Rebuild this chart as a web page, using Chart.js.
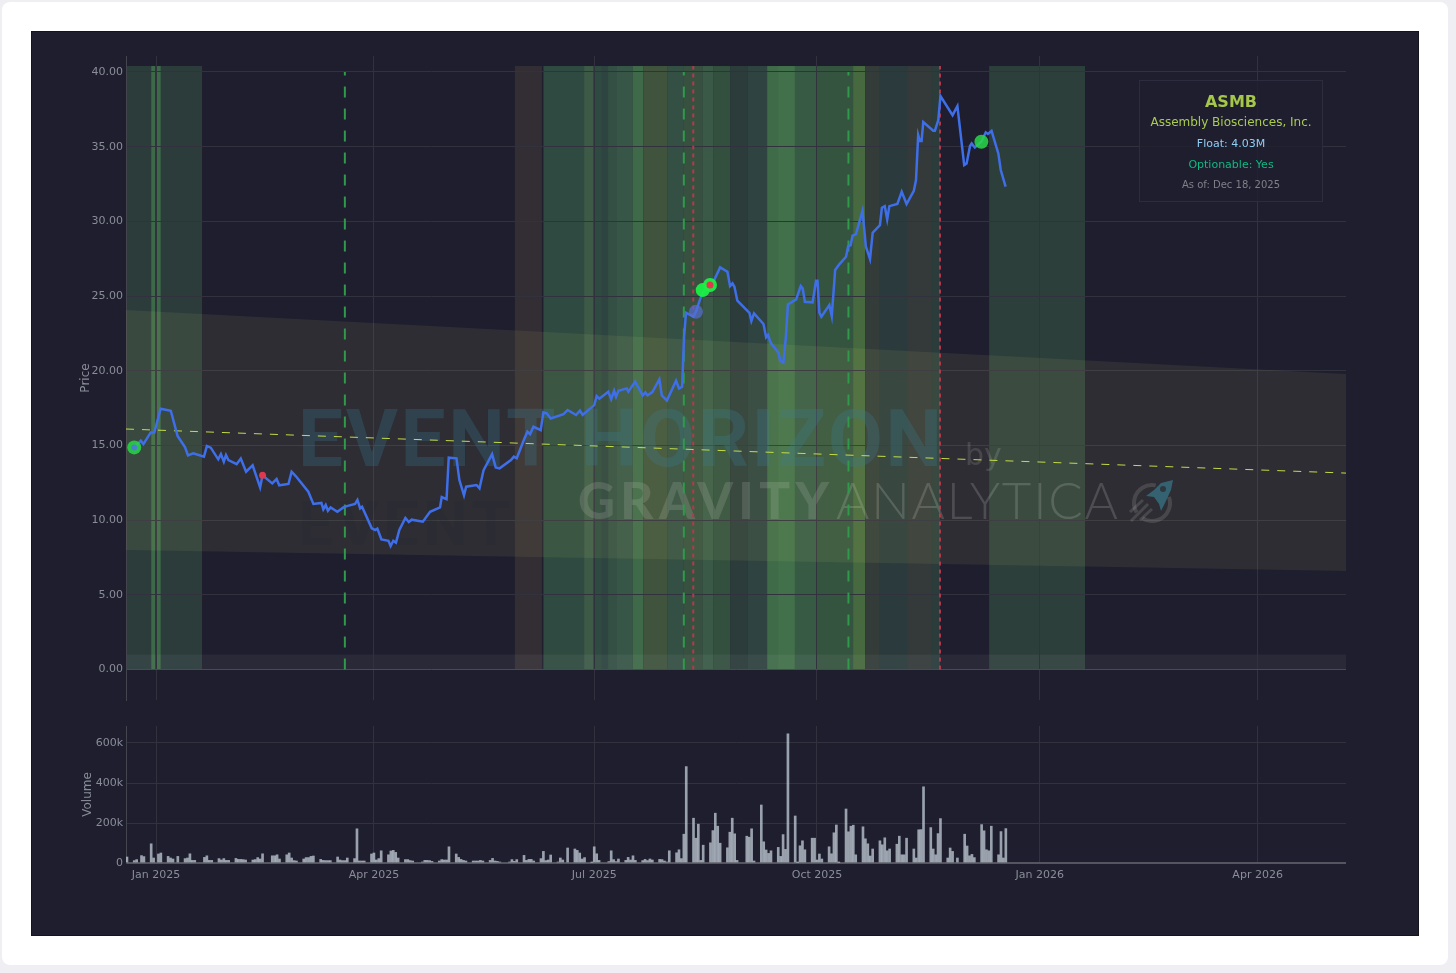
<!DOCTYPE html>
<html>
<head>
<meta charset="utf-8">
<title>ASMB</title>
<script src="https://cdn.jsdelivr.net/npm/chart.js@4/dist/chart.umd.min.js"></script>
<style>
    html, body { margin: 0; padding: 0; background: #eeeef3; width: 1456px; height: 973px; overflow: hidden; font-family: "DejaVu Sans", sans-serif; }
    #card { position: absolute; left: 2px; top: 2px; width: 1446px; height: 963px; background: #fff; border-radius: 8px; }
    #panel { position: absolute; left: 31px; top: 31px; width: 1388px; height: 905px; background: #1e1e2e; box-shadow: 0 0 0 1px #14141f inset; }
    canvas { position: absolute; left: 0; }
    #priceChart { top: 0; }
    #volumeChart { top: 685px; }
    #infoBox { position: absolute; left: 1108px; top: 49px; width: 182px; height: 120px; border: 1px solid #2c2c3e; background: rgba(30, 30, 46, 0.8); text-align: center; }
    #infoBox div { position: absolute; left: 0; right: 0; white-space: nowrap; }
</style>
</head>
<body>
<div id="card"></div>
<div id="panel">
    <canvas id="priceChart" width="1388" height="685"></canvas>
    <canvas id="volumeChart" width="1388" height="220"></canvas>
    <div id="infoBox">
        <div style="top:11px;font-size:16px;font-weight:bold;color:#a4c64a">ASMB</div>
        <div style="top:34px;font-size:12px;color:#a9cc50">Assembly Biosciences, Inc.</div>
        <div style="top:56px;font-size:11px;color:#90cdf4">Float: 4.03M</div>
        <div style="top:77px;font-size:11px;color:#10b981">Optionable: Yes</div>
        <div style="top:98px;font-size:10px;color:#808088">As of: Dec 18, 2025</div>
    </div>
</div>
<script>
// Eixo x em dias desde 1 jan 2025
const X_MIN = -12.4;
const X_MAX = 491.5;
const dateTickDays = [0, 90, 181, 273, 365, 455];
const dateTickLabels = ['Jan 2025', 'Apr 2025', 'Jul 2025', 'Oct 2025', 'Jan 2026', 'Apr 2026'];
const priceTicks = [0, 5, 10, 15, 20, 25, 30, 35, 40];
const volumeTicks = [0, 200000, 400000, 600000];
const volumeTickLabels = ['0', '200k', '400k', '600k'];

// Preço
const priceDays = [
    -9, -6.3, -5.2, -2.2, -0.7, 1.9, 6.1, 8.9, 12, 13.2, 15.4, 19.8, 21, 22.6, 25.7, 26.8, 28, 28.9, 29.9, 33.3,
    35, 37.2, 39.9, 43, 44, 48, 49.8, 50.9, 54.7, 56, 57.7, 62.9, 65, 68.3, 69.1, 70.1, 71, 72.1, 74.9, 77.4,
    78.8, 82.2, 83.2, 84.3, 85.1, 89.1, 90.5, 91.4, 93.1, 96, 96.9, 98, 99.1, 100.5, 103, 104.4, 105.6, 110.2, 113.2, 117.3,
    118, 120, 120.9, 124.1, 125.3, 127.2, 128.1, 132.4, 133.6, 135.3, 138.8, 140.3, 141.9, 146.6, 147.8, 149, 152, 153.4, 154.5, 155.9,
    158.9, 160, 161.4, 163, 168.3, 170, 173.5, 175.1, 176.2, 181, 182, 183.1, 186.8, 188, 189.2, 190, 191, 194.4, 195.1, 197.9,
    201, 202.1, 203, 205, 207.9, 208.9, 211, 214.8, 216, 217.3, 218.1, 218.9, 222, 223, 224.7, 226.1, 228.8, 230.2, 233, 236,
    237.1, 238.1, 238.9, 240.1, 245.1, 245.9, 247, 250.9, 252, 252.8, 253.9, 257.1, 257.8, 259.1, 260.1, 261, 264.4, 266.3, 267.1, 268,
    271.2, 272.6, 273.2, 274, 274.8, 278.1, 279.1, 280.5, 282.3, 285, 285.9, 286.9, 287.7, 289.1, 291.8, 293.2, 294.9, 296, 299, 299.8,
    301, 302, 302.9, 306.2, 308, 310, 313, 313.9, 314.8, 315.5, 316.2, 316.9, 321, 321.7, 323.1, 324, 329, 331, 333.8, 334.8,
    336.2, 336.9, 338.2, 340.9, 342.7, 343.6, 345.1, 347.9, 348.9, 350.9
];
const priceValues = [
    14.87, 15.32, 15.09, 15.87, 15.87, 17.46, 17.32, 15.63, 14.87, 14.33, 14.47, 14.25, 14.96, 14.85, 14.07, 14.42, 13.91, 14.36, 14.02, 13.75,
    14.13, 13.24, 13.67, 12.19, 13.0, 12.46, 12.75, 12.33, 12.42, 13.24, 12.95, 11.9, 11.08, 11.15, 10.72, 11.01, 10.63, 10.85, 10.56, 10.85,
    10.94, 11.08, 11.35, 10.79, 10.9, 9.45, 9.34, 9.43, 8.71, 8.62, 8.27, 8.62, 8.49, 9.34, 10.14, 9.87, 10.03, 9.9, 10.56, 10.85,
    11.55, 11.41, 14.18, 14.14, 12.68, 11.66, 12.24, 12.35, 12.13, 13.35, 14.42, 13.53, 13.47, 14.02, 14.25, 14.14, 15.4, 15.92, 15.76, 16.25,
    16.03, 17.21, 17.15, 16.81, 17.1, 17.37, 17.04, 17.33, 17.04, 17.7, 18.3, 18.13, 18.6, 18.1, 18.66, 18.26, 18.66, 18.82, 18.6, 19.27,
    18.35, 18.55, 18.35, 18.57, 19.42, 18.35, 18.0, 19.33, 18.82, 18.93, 22.28, 23.88, 23.62, 23.95, 24.78, 25.29, 25.74, 25.96, 26.92, 26.63,
    25.67, 25.85, 25.62, 24.69, 23.88, 23.33, 23.84, 23.13, 22.24, 22.39, 21.87, 21.2, 20.67, 20.54, 22.17, 24.44, 24.78, 25.67, 25.51, 24.62,
    24.58, 26.03, 26.03, 23.88, 23.62, 24.4, 23.66, 26.74, 27.14, 27.63, 28.35, 28.4, 29.04, 29.15, 30.71, 28.3, 27.47, 29.24, 29.75, 30.91,
    31.02, 30.13, 31.02, 31.16, 31.98, 31.16, 32.05, 32.77, 35.78, 35.38, 35.38, 36.65, 36.07, 36.07, 36.78, 38.39, 37.11, 37.71, 33.77, 33.88,
    35.04, 35.22, 34.95, 35.33, 35.96, 35.85, 36.05, 34.55, 33.44, 32.32
];

// Marcadores de eventos
const greenMarkerDays = [-9, 340.9];
const greenMarkerValues = [14.87, 35.33];
const brightMarkerDays = [225.8, 228.8];
const brightMarkerValues = [25.4, 25.74];
const blueMarkerDays = [223];
const blueMarkerValues = [23.95];
const blueDotDays = [-9];
const blueDotValues = [14.87];
const redDotDays = [44, 228.8];
const redDotValues = [13.0, 25.74];

// Volume (diário, valores em milhares)
const volumeDays = [
    -12, -9, -8, -6, -5, -2, -1, 1, 2, 5, 6, 7, 9, 12, 13, 14, 15, 16, 20, 21, 22, 23, 26, 27, 28, 29, 30,
    33, 34, 35, 36, 37, 40, 41, 42, 43, 44, 48, 49, 50, 51, 54, 55, 56, 57, 58, 61, 62, 63, 64, 65,
    68, 69, 70, 71, 72, 75, 76, 77, 78, 79, 82, 83, 84, 85, 86, 89, 90, 91, 92, 93, 96, 97, 98, 99, 100,
    103, 104, 105, 106, 110, 111, 112, 113, 114, 117, 118, 119, 120, 121, 124, 125, 126, 127, 128,
    131, 132, 133, 134, 135, 138, 139, 140, 141, 142, 146, 147, 148, 149, 152, 153, 154, 155, 156,
    159, 160, 161, 162, 163, 166, 167, 168, 170, 173, 174, 175, 176, 177, 180, 181, 182, 183,
    187, 188, 189, 190, 191, 194, 195, 196, 197, 198, 201, 202, 203, 204, 205, 208, 209, 210, 211, 212,
    215, 216, 217, 218, 219, 222, 223, 224, 225, 226, 229, 230, 231, 232, 233, 236, 237, 238, 239, 240,
    244, 245, 246, 247, 250, 251, 252, 253, 254, 257, 258, 259, 260, 261, 264, 265, 266, 267, 268,
    271, 272, 273, 274, 275, 278, 279, 280, 281, 282, 285, 286, 287, 288, 289, 292, 293, 294, 295, 296,
    299, 300, 301, 302, 303, 306, 307, 308, 309, 310, 313, 314, 315, 316, 317, 320, 321, 322, 323, 324,
    327, 328, 329, 331, 334, 335, 336, 337, 338, 341, 342, 343, 344, 345, 348, 349, 350, 351
];
const volumeThousands = [
    30, 12, 17, 37, 32, 96, 25, 45, 50, 33, 25, 20, 33, 22, 25, 46, 13, 13, 28, 36, 13, 13, 22, 15, 22, 13, 13,
    23, 18, 18, 17, 15, 15, 17, 27, 20, 46, 36, 36, 41, 20, 41, 50, 25, 12, 10, 20, 27, 27, 33, 35,
    18, 13, 12, 12, 12, 30, 15, 12, 12, 25, 22, 171, 10, 10, 10, 45, 50, 15, 22, 61, 41, 60, 63, 53, 25,
    17, 17, 12, 10, 5, 13, 13, 12, 8, 10, 17, 15, 15, 81, 45, 28, 18, 13, 10,
    10, 10, 10, 13, 10, 13, 23, 10, 8, 5, 5, 17, 8, 17, 38, 13, 18, 18, 10,
    22, 58, 12, 15, 40, 5, 25, 15, 75, 70, 63, 50, 20, 27, 3, 81, 46, 13,
    7, 61, 17, 7, 20, 13, 28, 15, 36, 13, 12, 18, 12, 20, 15, 18, 17, 10, 5, 61,
    51, 66, 22, 144, 482, 224, 124, 194, 13, 89, 101, 162, 249, 184, 99, 76, 154, 224, 146, 13,
    134, 129, 171, 10, 290, 106, 65, 48, 61, 78, 33, 142, 68, 646, 235, 3, 86, 111, 66,
    124, 124, 15, 45, 20, 81, 46, 151, 190, 3, 270, 156, 184, 189, 41, 181, 121, 96, 35, 70,
    111, 91, 126, 61, 70, 94, 134, 41, 41, 124, 70, 25, 166, 167, 381, 177, 70, 41, 147, 222,
    25, 75, 58, 25, 144, 85, 36, 43, 27, 192, 161, 66, 61, 184, 41, 157, 25, 172
];

// Linhas verticais e canal de tendência
const greenLineDays = [78, 218, 286];
const redLineDays = [221.9, 323.8];
const lineBottom = 0;
const lineTop = 40;
const redLineTop = 40.4;
const channelDays = [X_MIN, X_MAX];
const channelUpper = [24.06, 19.78];
const channelMiddle = [16.1, 13.15];
const channelLower = [8.0, 6.59];

// Faixas de fundo
const bandTop = 40.4;
const bandStarts = [
    -12.4, -2, -0.3, 0.3, 2, 148.2, 160, 176.8, 180.5, 184.2, 186.7, 190.4, 197, 201.2, 211.1, 217.7, 225.9, 230.1,
    237.1, 244.5, 252.4, 256.9, 263.9, 273, 287.9, 292.9, 299, 310.2, 320.1, 344.1
];
const bandEnds = [
    -2, -0.3, 0.3, 2, 19, 159.4, 176.8, 180.5, 184.2, 186.7, 190.4, 197, 201.2, 211.1, 217.7, 225.9, 230.1, 237.1,
    244.5, 252.4, 256.9, 263.9, 273, 287.9, 292.9, 299, 310.2, 320.1, 323.8, 383.7
];
const bandColors = [
    '#2b3c3b', '#3c6a48', '#2b3c3b', '#3c6a48', '#2b3c3b', '#332e33', '#2f4a40', '#3d5a47', '#2f4a40', '#2d4440', '#345044', '#385647', '#3f6a49', '#3f533d', '#345044', '#37503f', '#3a5a47', '#33503f',
    '#2b3c3a', '#2f4340', '#3f6b49', '#42704a', '#375a45', '#35543f', '#47693f', '#333c38', '#2b3a3c', '#34393a', '#2b3c3b', '#2d3f3b'
];
const floorBand = [0, 1];

// Faixas atrás da grade
const bandsPlugin = {
    id: 'bands',
    beforeDraw(chart) {
        const { ctx, chartArea, scales } = chart;
        const yTop = scales.y.getPixelForValue(bandTop);
        const yBottom = scales.y.getPixelForValue(0);
        ctx.save();
        bandStarts.forEach((start, i) => {
            const x0 = scales.x.getPixelForValue(start);
            const x1 = scales.x.getPixelForValue(bandEnds[i]);
            ctx.fillStyle = bandColors[i];
            ctx.fillRect(x0, yTop, x1 - x0, yBottom - yTop);
        });
        const f0 = scales.y.getPixelForValue(floorBand[1]);
        const f1 = scales.y.getPixelForValue(floorBand[0]);
        ctx.fillStyle = 'rgba(255, 255, 255, 0.05)';
        ctx.fillRect(chartArea.left, f0, chartArea.width, f1 - f0);
        ctx.restore();
    }
};

function fitText(ctx, text, x, baseline, width) {
    ctx.letterSpacing = '0px';
    const w = ctx.measureText(text).width;
    ctx.letterSpacing = ((width - w) / (text.length - 1)) + 'px';
    ctx.fillText(text, x, baseline);
    ctx.letterSpacing = '0px';
}

function drawRocket(ctx, cx, cy) {
    ctx.save();
    ctx.translate(cx, cy);
    const rad = Math.PI / 180;
    ctx.strokeStyle = 'rgba(210, 210, 210, 0.17)';
    ctx.lineWidth = 4;
    ctx.beginPath();
    ctx.arc(0, 0, 18, -20 * rad, 122 * rad);
    ctx.stroke();
    ctx.beginPath();
    ctx.arc(0, 0, 18, 148 * rad, 282 * rad);
    ctx.stroke();
    ctx.lineWidth = 3;
    [[-21, 18, -4, 1], [-12, 17, 0, 6], [-22, 9, -9, -3]].forEach(s => {
        ctx.beginPath();
        ctx.moveTo(s[0], s[1]);
        ctx.lineTo(s[2], s[3]);
        ctx.stroke();
    });
    ctx.fillStyle = 'rgba(45, 125, 155, 0.6)';
    ctx.beginPath();
    ctx.moveTo(21, -23);
    ctx.lineTo(9, -20);
    ctx.lineTo(2, -13);
    ctx.lineTo(-6, -7);
    ctx.lineTo(2, -6);
    ctx.lineTo(7, 1);
    ctx.lineTo(9, 8);
    ctx.lineTo(13, 0);
    ctx.lineTo(19, -13);
    ctx.closePath();
    ctx.fill();
    ctx.fillStyle = 'rgba(30, 30, 46, 0.8)';
    ctx.beginPath();
    ctx.arc(11, -14, 3, 0, Math.PI * 2);
    ctx.fill();
    ctx.restore();
}

// Marca d'água
const watermarkPlugin = {
    id: 'watermark',
    beforeDatasetsDraw(chart) {
        const ctx = chart.ctx;
        ctx.save();
        ctx.textAlign = 'left';
        ctx.textBaseline = 'alphabetic';

        ctx.font = '700 80px Roboto';
        ctx.fillStyle = 'rgba(45, 120, 150, 0.27)';
        fitText(ctx, 'EVENT HORIZON', 267, 435, 644);

        ctx.font = '700 62px Roboto';
        ctx.fillStyle = 'rgba(20, 25, 45, 0.1)';
        fitText(ctx, 'EVENT', 267, 514, 212);

        ctx.font = '30px "DejaVu Sans"';
        ctx.fillStyle = 'rgba(200, 200, 200, 0.17)';
        ctx.fillText('by', 934, 434);

        ctx.font = '900 51px Lato';
        ctx.fillStyle = 'rgba(210, 210, 210, 0.17)';
        fitText(ctx, 'GRAVITY', 547, 488, 251);

        ctx.font = '300 51px Lato';
        ctx.fillStyle = 'rgba(210, 210, 210, 0.2)';
        fitText(ctx, 'ANALYTICA', 805, 488, 282);

        drawRocket(ctx, 1121, 472);
        ctx.restore();
    }
};

const points = (days, values) => days.map((d, i) => ({ x: d, y: values[i] }));
const vertical = (d, top) => [{ x: d, y: lineBottom }, { x: d, y: top }];

function markerSet(days, values, radius, color) {
    return {
        data: points(days, values),
        showLine: false,
        pointRadius: radius,
        pointHoverRadius: radius,
        pointBackgroundColor: color,
        pointBorderWidth: 0
    };
}

const verticals = [
    ...greenLineDays.map(d => ({ data: vertical(d, lineTop), borderColor: '#2f9a4a', borderWidth: 2, borderDash: [11, 11], pointRadius: 0 })),
    ...redLineDays.map(d => ({ data: vertical(d, redLineTop), borderColor: '#b03a4e', borderWidth: 2, borderDash: [4, 4], pointRadius: 0 }))
];

const GRID = '#32323f';
const TICK = { color: '#8a8d99', font: { family: 'DejaVu Sans', size: 11 } };
const TITLE = { display: true, color: '#8a8d99', font: { family: 'DejaVu Sans', size: 12 }, padding: 0 };

new Chart(document.getElementById('priceChart'), {
    type: 'line',
    data: {
        datasets: [
            markerSet(redDotDays, redDotValues, 3.5, '#e0384c'),
            markerSet(blueDotDays, blueDotValues, 3, '#4a7fd0'),
            markerSet(brightMarkerDays, brightMarkerValues, 7, 'rgba(26, 240, 70, 0.95)'),
            markerSet(greenMarkerDays, greenMarkerValues, 7, 'rgba(40, 215, 70, 0.85)'),
            markerSet(blueMarkerDays, blueMarkerValues, 7, 'rgba(85, 110, 210, 0.7)'),
            { data: points(priceDays, priceValues), borderColor: '#3f6fe8', borderWidth: 2.5, pointRadius: 0, tension: 0 },
            { data: points(channelDays, channelMiddle), borderColor: '#c4dc48', borderWidth: 1, borderDash: [8, 8], pointRadius: 0 },
            ...verticals,
            { data: points(channelDays, channelUpper), borderWidth: 0, pointRadius: 0, fill: '+1', backgroundColor: 'rgba(250, 250, 140, 0.065)' },
            { data: points(channelDays, channelLower), borderWidth: 0, pointRadius: 0 }
        ]
    },
    options: {
        responsive: false,
        animation: false,
        layout: { padding: { left: 48, right: 73, top: 25, bottom: 16 } },
        plugins: { legend: { display: false }, tooltip: { enabled: false } },
        scales: {
            x: {
                type: 'linear',
                min: X_MIN,
                max: X_MAX,
                afterBuildTicks: scale => { scale.ticks = dateTickDays.map(v => ({ value: v })); },
                ticks: { display: false },
                grid: { color: GRID, drawTicks: false },
                border: { display: false }
            },
            y: {
                min: -2.04,
                max: 41.07,
                afterBuildTicks: scale => { scale.ticks = priceTicks.map(v => ({ value: v })); },
                afterFit: scale => { scale.width = 47; },
                ticks: { ...TICK, padding: 3, callback: v => v.toFixed(2) },
                grid: { color: c => c.tick.value === 0 ? '#4a4a56' : GRID, drawTicks: false },
                border: { color: '#44444f' },
                title: { ...TITLE, text: 'Price' }
            }
        }
    },
    plugins: [bandsPlugin, watermarkPlugin]
});

new Chart(document.getElementById('volumeChart'), {
    type: 'bar',
    data: {
        datasets: [{
            data: volumeDays.map((d, i) => ({ x: d, y: volumeThousands[i] * 1000 })),
            backgroundColor: 'rgba(195, 205, 216, 0.75)',
            barThickness: 2
        }]
    },
    options: {
        responsive: false,
        animation: false,
        layout: { padding: { left: 50, right: 73, top: 10, bottom: 0 } },
        plugins: { legend: { display: false }, tooltip: { enabled: false } },
        scales: {
            x: {
                type: 'linear',
                min: X_MIN,
                max: X_MAX,
                offset: false,
                afterBuildTicks: scale => { scale.ticks = dateTickDays.map(v => ({ value: v })); },
                afterFit: scale => { scale.height = 73; },
                ticks: { ...TICK, padding: 6, maxRotation: 0, autoSkip: false, callback: (v, i) => dateTickLabels[i] },
                grid: { color: GRID, drawTicks: false, offset: false },
                border: { display: false }
            },
            y: {
                min: 0,
                max: 685000,
                afterBuildTicks: scale => { scale.ticks = volumeTicks.map(v => ({ value: v })); },
                afterFit: scale => { scale.width = 45; },
                ticks: { ...TICK, padding: 3, callback: (v, i) => volumeTickLabels[i] },
                grid: { color: c => c.tick.value === 0 ? '#55555f' : GRID, drawTicks: false, lineWidth: c => c.tick.value === 0 ? 2 : 1 },
                border: { color: '#44444f' },
                title: { ...TITLE, text: 'Volume' }
            }
        }
    }
});
</script>
</body>
</html>
